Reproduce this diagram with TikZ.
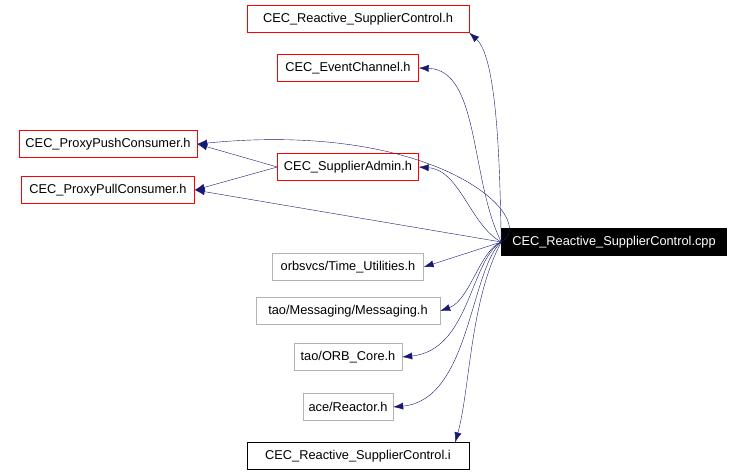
\documentclass[tikz,border=0pt]{standalone}
\usepackage{fontspec}
\setmainfont{Liberation Sans}
\usetikzlibrary{arrows.meta}
\begin{document}
\begin{tikzpicture}[x=1pt,y=-1pt,
 b/.style={draw,minimum height=27pt,inner sep=0pt,font=\fontsize{12.8}{15}\selectfont},
 r/.style={b,draw=red},
 g/.style={b,draw=black!30},
 e/.style={draw=navy,-{Latex[length=10pt,width=7pt]},thin}]
\definecolor{navy}{RGB}{25,25,112}
\useasboundingbox (0,0) rectangle (742,475);
\node[b,fill=black,text=white,minimum width=225pt] (m) at (614,242) {CEC\_Reactive\_SupplierControl.cpp};
\node[r,minimum width=222pt] (rh) at (358,19) {CEC\_Reactive\_SupplierControl.h};
\node[r,minimum width=141pt] (ec) at (348,68) {CEC\_EventChannel.h};
\node[r,minimum width=178pt] (push) at (108,144) {CEC\_ProxyPushConsumer.h};
\node[r,minimum width=141pt] (sa) at (348,167) {CEC\_SupplierAdmin.h};
\node[r,minimum width=173pt] (pull) at (108,190) {CEC\_ProxyPullConsumer.h};
\node[g,minimum width=151pt] (tu) at (348,267) {orbsvcs/Time\_Utilities.h};
\node[g,minimum width=184pt] (ms) at (348,311) {tao/Messaging/Messaging.h};
\node[g,minimum width=108pt] (orb) at (348,357) {tao/ORB\_Core.h};
\node[g,minimum width=90pt] (re) at (348,407) {ace/Reactor.h};
\node[b,minimum width=222pt] (ri) at (358,456) {CEC\_Reactive\_SupplierControl.i};
\coordinate (o) at (m.west);
\draw[e] (o) .. controls (500,200) and (500,60) .. (rh.south east);
\draw[e] (o) .. controls (470,180) and (480,70) .. (ec.east);
\draw[e] (o) .. controls (540,220) and (440,120) .. (push.east);
\draw[e] (o) .. controls (470,225) and (460,170) .. (sa.east);
\draw[e] (o) -- (pull.east);
\draw[e] (sa.west) -- (push.east);
\draw[e] (sa.west) -- (pull.east);
\draw[e] (o) -- (tu.east);
\draw[e] (o) .. controls (480,250) and (470,300) .. (ms.east);
\draw[e] (o) .. controls (470,260) and (470,350) .. (orb.east);
\draw[e] (o) .. controls (470,270) and (470,400) .. (re.east);
\draw[e] (o) .. controls (470,300) and (470,390) .. ([xshift=-14pt]ri.north east);
\end{tikzpicture}
\end{document}
